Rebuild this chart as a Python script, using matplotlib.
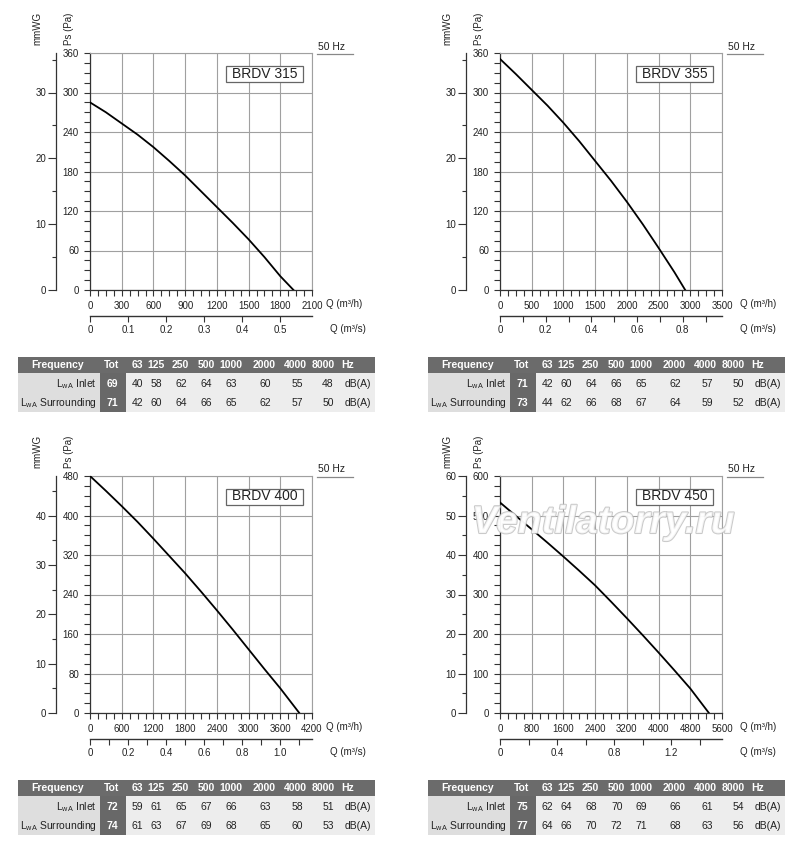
import matplotlib
matplotlib.use("Agg")
import matplotlib.pyplot as plt
import numpy as np
from matplotlib.ticker import MultipleLocator, FuncFormatter
from matplotlib.patches import Rectangle
import matplotlib.patheffects as pe

plt.rcParams['font.family'] = ['Liberation Sans', 'DejaVu Sans']
plt.rcParams['mathtext.default'] = 'regular'

# ---------------- data ----------------
models = ["BRDV 315", "BRDV 355", "BRDV 400", "BRDV 450"]
q_max = [2100, 3500, 4200, 5600]
q_step = [300, 500, 600, 800]
ps_max = [360, 360, 480, 600]
ps_step = [60, 60, 80, 100]
qs_label_step = [0.1, 0.2, 0.2, 0.4]
qs_tick_step = [0.1, 0.1, 0.1, 0.2]

q_315 = [0, 150, 300, 450, 600, 750, 900, 1050, 1200, 1350, 1500, 1650, 1800, 1925]
ps_315 = [285, 270, 253, 236, 217, 196, 174, 150, 126, 102, 77, 50, 21, 0]
q_355 = [0, 250, 500, 750, 1000, 1250, 1500, 1750, 2000, 2250, 2500, 2750, 2920]
ps_355 = [351, 328, 304, 280, 254, 226, 196, 166, 134, 100, 64, 27, 0]
q_400 = [0, 300, 600, 900, 1200, 1500, 1800, 2100, 2400, 2700, 3000, 3300, 3600, 3960]
ps_400 = [480, 450, 419, 387, 353, 318, 283, 246, 208, 169, 129, 89, 50, 0]
q_450 = [0, 400, 800, 1200, 1600, 2000, 2400, 2800, 3200, 3600, 4000, 4400, 4800, 5270]
ps_450 = [533, 499, 465, 431, 396, 360, 323, 282, 240, 197, 153, 108, 62, 0]
curves_q = [q_315, q_355, q_400, q_450]
curves_ps = [ps_315, ps_355, ps_400, ps_450]

freq_bands = ["63", "125", "250", "500", "1000", "2000", "4000", "8000"]
row_labels = ["L$_{wA}$ Inlet", "L$_{wA}$ Surrounding"]
inlet_tot = [69, 71, 72, 75]
surr_tot = [71, 73, 74, 77]
inlet_bands = [[40, 58, 62, 64, 63, 60, 55, 48],
               [42, 60, 64, 66, 65, 62, 57, 50],
               [59, 61, 65, 67, 66, 63, 58, 51],
               [62, 64, 68, 70, 69, 66, 61, 54]]
surr_bands = [[42, 60, 64, 66, 65, 62, 57, 50],
              [44, 62, 66, 68, 67, 64, 59, 52],
              [61, 63, 67, 69, 68, 65, 60, 53],
              [64, 66, 70, 72, 71, 68, 63, 56]]

# ---------------- figure ----------------
W, H = 800, 852
fig = plt.figure(figsize=(W / 100, H / 100), dpi=100)
fig.patch.set_facecolor('white')


def px_ax(x0, y0, w, h):
    return fig.add_axes([x0 / W, 1 - (y0 + h) / H, w / W, h / H])


ov = fig.add_axes([0, 0, 1, 1])
ov.set_xlim(0, W)
ov.set_ylim(H, 0)
ov.axis('off')

PW, PH = 222, 237
GRID = '#a0a0a0'
TXT = '#222222'


def qs_fmt(v, pos):
    if abs(v) < 1e-9:
        return "0"
    return "%.1f" % v


for i in range(4):
    c, r = i % 2, i // 2
    ox = 90 + 410 * c
    oy = 53 + 423 * r

    ax = px_ax(ox, oy, PW, PH)
    ax.set_xlim(0, q_max[i])
    ax.set_ylim(0, ps_max[i])
    ax.xaxis.set_major_locator(MultipleLocator(q_step[i]))
    ax.xaxis.set_minor_locator(MultipleLocator(q_step[i] / 4))
    ax.yaxis.set_major_locator(MultipleLocator(ps_step[i]))
    ax.yaxis.set_minor_locator(MultipleLocator(ps_step[i] / 4))
    ax.grid(True, which='major', color=GRID, lw=0.8)
    ax.set_axisbelow(True)
    for s in ['top', 'right']:
        ax.spines[s].set_color(GRID)
        ax.spines[s].set_linewidth(0.8)
    for s in ['left', 'bottom']:
        ax.spines[s].set_color('#333333')
        ax.spines[s].set_linewidth(0.9)
    ax.tick_params(which='both', direction='out', length=4, width=0.8,
                   color='#333333', labelsize=7, labelcolor=TXT)
    ax.tick_params(axis='x', which='major', pad=4)
    ax.tick_params(axis='y', which='major', pad=4)
    ax.xaxis.set_major_formatter(FuncFormatter(lambda v, p: "%d" % round(v)))
    ax.yaxis.set_major_formatter(FuncFormatter(lambda v, p: "%d" % round(v)))
    ax.plot(curves_q[i], curves_ps[i], color='black', lw=1.3, zorder=5,
            solid_joinstyle='round')

    # mmWG axis
    mx = ox - 34
    am = px_ax(mx, oy, 1, PH)
    am.set_facecolor('none')
    am.set_ylim(0, ps_max[i] / 10)
    am.set_xticks([])
    for s in ['top', 'right', 'bottom']:
        am.spines[s].set_visible(False)
    am.spines['left'].set_color('#333333')
    am.spines['left'].set_linewidth(0.9)
    am.yaxis.set_major_locator(MultipleLocator(10))
    am.yaxis.set_minor_locator(MultipleLocator(5))
    am.yaxis.set_major_formatter(FuncFormatter(lambda v, p: "%d" % round(v)))
    am.tick_params(axis='y', which='major', direction='out', length=6,
                   width=0.8, color='#333333', labelsize=7, labelcolor=TXT, pad=1)
    am.tick_params(axis='y', which='minor', direction='out', length=3,
                   width=0.8, color='#333333')

    # m3/s axis
    aq = px_ax(ox, oy + PH + 26 - 1, PW, 1)
    aq.set_facecolor('none')
    aq.set_xlim(0, q_max[i] / 3600)
    aq.set_yticks([])
    for s in ['top', 'right', 'left']:
        aq.spines[s].set_visible(False)
    aq.spines['bottom'].set_color('#333333')
    aq.spines['bottom'].set_linewidth(1.0)
    aq.xaxis.set_major_locator(MultipleLocator(qs_label_step[i]))
    if qs_tick_step[i] < qs_label_step[i]:
        aq.xaxis.set_minor_locator(MultipleLocator(qs_tick_step[i]))
    aq.xaxis.set_major_formatter(FuncFormatter(qs_fmt))
    aq.tick_params(axis='x', which='both', direction='out', length=4,
                   width=0.8, color='#333333', labelsize=7, labelcolor=TXT, pad=2.5)

    # annotations
    qoff = 14 if c == 0 else 18
    ov.text(ox + PW + qoff, oy + PH + 14, "Q (m³/h)", ha='left', va='center',
            fontsize=7, color=TXT)
    ov.text(ox + PW + 18, oy + PH + 39, "Q (m³/s)", ha='left', va='center',
            fontsize=7, color=TXT)
    ov.text(ox + PW + 6, oy - 1.5, "50 Hz", ha='left', va='bottom',
            fontsize=7.5, color=TXT)
    ov.plot([ox + PW + 5, ox + PW + 41], [oy + 1, oy + 1], color='#888888', lw=0.9)
    ov.text(ox - 53, oy - 8, "mmWG", rotation=90, ha='center', va='bottom',
            fontsize=7, color=TXT)
    ov.text(ox - 21, oy - 8, "Ps (Pa)", rotation=90, ha='center', va='bottom',
            fontsize=7, color=TXT)
    bx, by = ox + PW - 86, oy + 12.5
    ax.add_patch(Rectangle(((bx - ox) / PW, 1 - (by - oy + 16) / PH), 77 / PW, 16 / PH,
                           transform=ax.transAxes, facecolor='white',
                           edgecolor='#666666', lw=0.9, zorder=6))
    ax.text((bx - ox + 38.5) / PW, 1 - (by - oy + 8) / PH, models[i],
            transform=ax.transAxes, ha='center', va='center', fontsize=10,
            color=TXT, zorder=7)

    # ---- table ----
    tx = 18 + 410 * c
    ty = 357 + 423 * r
    tw = 357
    ov.add_patch(Rectangle((tx, ty), tw, 15.5, facecolor='#6b6b6b', edgecolor='none'))
    ov.add_patch(Rectangle((tx, ty + 15.5), 82, 39.5, facecolor='#dedede', edgecolor='none'))
    ov.add_patch(Rectangle((tx + 82, ty + 15.5), 26, 39.5, facecolor='#686868', edgecolor='none'))
    ov.add_patch(Rectangle((tx + 108, ty + 15.5), tw - 108, 39.5, facecolor='#ededed', edgecolor='none'))
    hc = [119, 138, 162.5, 188, 213, 246, 277, 305]
    dc = [119.7, 138.7, 163, 188.7, 213.7, 247, 279, 310]
    yh, y1, y2 = ty + 8, ty + 27, ty + 46
    ov.text(tx + 40, yh, "Frequency", ha='center', va='center', fontsize=7.5,
            color='white', fontweight='bold')
    ov.text(tx + 94, yh, "Tot", ha='center', va='center', fontsize=7.5,
            color='white', fontweight='bold')
    for k, b in enumerate(freq_bands):
        ov.text(tx + hc[k], yh, b, ha='center', va='center', fontsize=7.5,
                color='white', fontweight='bold')
    ov.text(tx + 323, yh, "Hz", ha='left', va='center', fontsize=7.5,
            color='white', fontweight='bold')
    for yy, lab, tot, vals in [(y1, row_labels[0], inlet_tot[i], inlet_bands[i]),
                               (y2, row_labels[1], surr_tot[i], surr_bands[i])]:
        ov.text(tx + 79, yy, lab, ha='right', va='center', fontsize=7.5, color=TXT)
        ov.text(tx + 94, yy, str(tot), ha='center', va='center', fontsize=7.5,
                color='white', fontweight='bold')
        for k, v in enumerate(vals):
            ov.text(tx + dc[k], yy, str(v), ha='center', va='center',
                    fontsize=7.5, color=TXT)
        ov.text(tx + 340, yy, "dB(A)", ha='center', va='center', fontsize=7.5,
                color=TXT)

# watermark
fig.text(603 / W, 1 - 523 / H, "Ventilatorry.ru", ha='center', va='center',
         fontsize=28, fontweight='bold', style='italic', color='white', alpha=0.8,
         path_effects=[pe.withStroke(linewidth=1.5, foreground='#bdbdbd')],
         zorder=20)

fig.savefig("out.png", dpi=100, facecolor='white')
